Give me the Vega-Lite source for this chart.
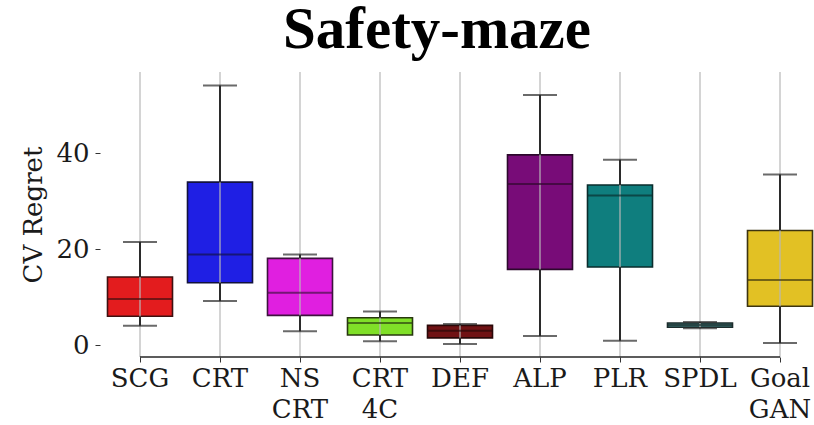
{
  "$schema": "https://vega.github.io/schema/vega-lite/v6.json",
  "autosize": {"type": "none"},
  "padding": {"left": 100, "top": 72, "right": 0, "bottom": 68},
  "width": 720,
  "height": 285,
  "background": "white",
  "title": {
    "text": "Safety-maze",
    "font": "Liberation Serif",
    "fontSize": 59,
    "fontWeight": "bold",
    "color": "#000000",
    "anchor": "middle",
    "baseline": "bottom",
    "dx": -23,
    "offset": -48
  },
  "config": {
    "view": {"stroke": null},
    "font": "DejaVu Serif",
    "axis": {
      "labelFont": "DejaVu Serif",
      "titleFont": "DejaVu Serif",
      "labelFontSize": 26,
      "titleFontSize": 26,
      "titleFontWeight": "normal",
      "labelColor": "#1a1a1a",
      "titleColor": "#1a1a1a",
      "tickColor": "#333333",
      "tickSize": 5,
      "domain": false,
      "grid": false
    }
  },
  "datasets": {
    "stats": [
      {"method": "SCG", "lo": 4.0, "q1": 6.0, "med": 9.6, "q3": 14.2, "hi": 21.5},
      {"method": "CRT", "lo": 9.2, "q1": 13.0, "med": 18.9, "q3": 34.0, "hi": 54.2},
      {"method": "NS CRT", "lo": 2.9, "q1": 6.2, "med": 10.9, "q3": 18.1, "hi": 18.9},
      {"method": "CRT 4C", "lo": 0.8, "q1": 2.1, "med": 4.6, "q3": 5.7, "hi": 7.0},
      {"method": "DEF", "lo": 0.2, "q1": 1.5, "med": 3.0, "q3": 4.1, "hi": 4.4},
      {"method": "ALP", "lo": 1.9, "q1": 15.8, "med": 33.6, "q3": 39.7, "hi": 52.2},
      {"method": "PLR", "lo": 0.9, "q1": 16.3, "med": 31.2, "q3": 33.4, "hi": 38.7},
      {"method": "SPDL", "lo": 3.5, "q1": 3.7, "med": 4.2, "q3": 4.6, "hi": 4.8},
      {"method": "Goal GAN", "lo": 0.4, "q1": 8.1, "med": 13.6, "q3": 23.9, "hi": 35.6}
    ],
    "baseline": [
      {"first": "SCG", "last": "Goal GAN", "bottom": -2.5}
    ]
  },
  "data": {"name": "stats"},
  "encoding": {
    "x": {
      "field": "method",
      "type": "nominal",
      "sort": null,
      "scale": {"paddingInner": 0, "paddingOuter": 0},
      "axis": {
        "title": null,
        "labelAngle": 0,
        "labelPadding": 3,
        "labelExpr": "split(datum.label, ' ')",
        "labelLineHeight": 31,
        "labelBaseline": "top"
      }
    }
  },
  "layer": [
    {
      "mark": {"type": "bar", "size": 65, "strokeWidth": 1.6},
      "encoding": {
        "y": {
          "field": "q1",
          "type": "quantitative",
          "scale": {"domain": [-2.5, 57], "nice": false, "zero": false},
          "axis": {"title": "CV Regret", "values": [0, 20, 40], "labelPadding": 6, "titlePadding": 9}
        },
        "y2": {"field": "q3"},
        "fill": {
          "field": "method",
          "type": "nominal",
          "legend": null,
          "scale": {
            "domain": ["SCG", "CRT", "NS CRT", "CRT 4C", "DEF", "ALP", "PLR", "SPDL", "Goal GAN"],
            "range": ["#e31c1e", "#1f1fe4", "#e01fe0", "#80e028", "#701214", "#780c78", "#0f7e7e", "#3d7f7f", "#e2c124"]
          }
        },
        "stroke": {
          "field": "method",
          "type": "nominal",
          "legend": null,
          "scale": {
            "domain": ["SCG", "CRT", "NS CRT", "CRT 4C", "DEF", "ALP", "PLR", "SPDL", "Goal GAN"],
            "range": ["#3e1010", "#12123e", "#3e123e", "#28380f", "#2a0808", "#2c082c", "#0a2c2c", "#1c2c2c", "#3c3410"]
          }
        }
      }
    },
    {
      "mark": {"type": "rule", "color": "#b8b8b8", "opacity": 0.8, "strokeWidth": 1.5},
      "encoding": {}
    },
    {
      "mark": {"type": "rule", "color": "#2b2b2b", "strokeWidth": 2},
      "encoding": {
        "y": {"field": "lo", "type": "quantitative"},
        "y2": {"field": "q1"}
      }
    },
    {
      "mark": {"type": "rule", "color": "#2b2b2b", "strokeWidth": 2},
      "encoding": {
        "y": {"field": "q3", "type": "quantitative"},
        "y2": {"field": "hi"}
      }
    },
    {
      "mark": {"type": "tick", "color": "#2b2b2b", "size": 34, "thickness": 2},
      "encoding": {"y": {"field": "lo", "type": "quantitative"}}
    },
    {
      "mark": {"type": "tick", "color": "#2b2b2b", "size": 34, "thickness": 2},
      "encoding": {"y": {"field": "hi", "type": "quantitative"}}
    },
    {
      "mark": {"type": "tick", "size": 65, "thickness": 2},
      "encoding": {
        "y": {"field": "med", "type": "quantitative"},
        "color": {
          "field": "method",
          "type": "nominal",
          "legend": null,
          "scale": {
            "domain": ["SCG", "CRT", "NS CRT", "CRT 4C", "DEF", "ALP", "PLR", "SPDL", "Goal GAN"],
            "range": ["#461010", "#12124a", "#461246", "#2e420f", "#2a0808", "#30082e", "#0a3030", "#1c2c2c", "#443a10"]
          }
        }
      }
    },
    {
      "data": {"name": "baseline"},
      "mark": {"type": "rule", "color": "#262626", "strokeWidth": 1.5},
      "encoding": {
        "x": {"field": "first", "type": "nominal"},
        "x2": {"field": "last"},
        "y": {"field": "bottom", "type": "quantitative"}
      }
    }
  ]
}
